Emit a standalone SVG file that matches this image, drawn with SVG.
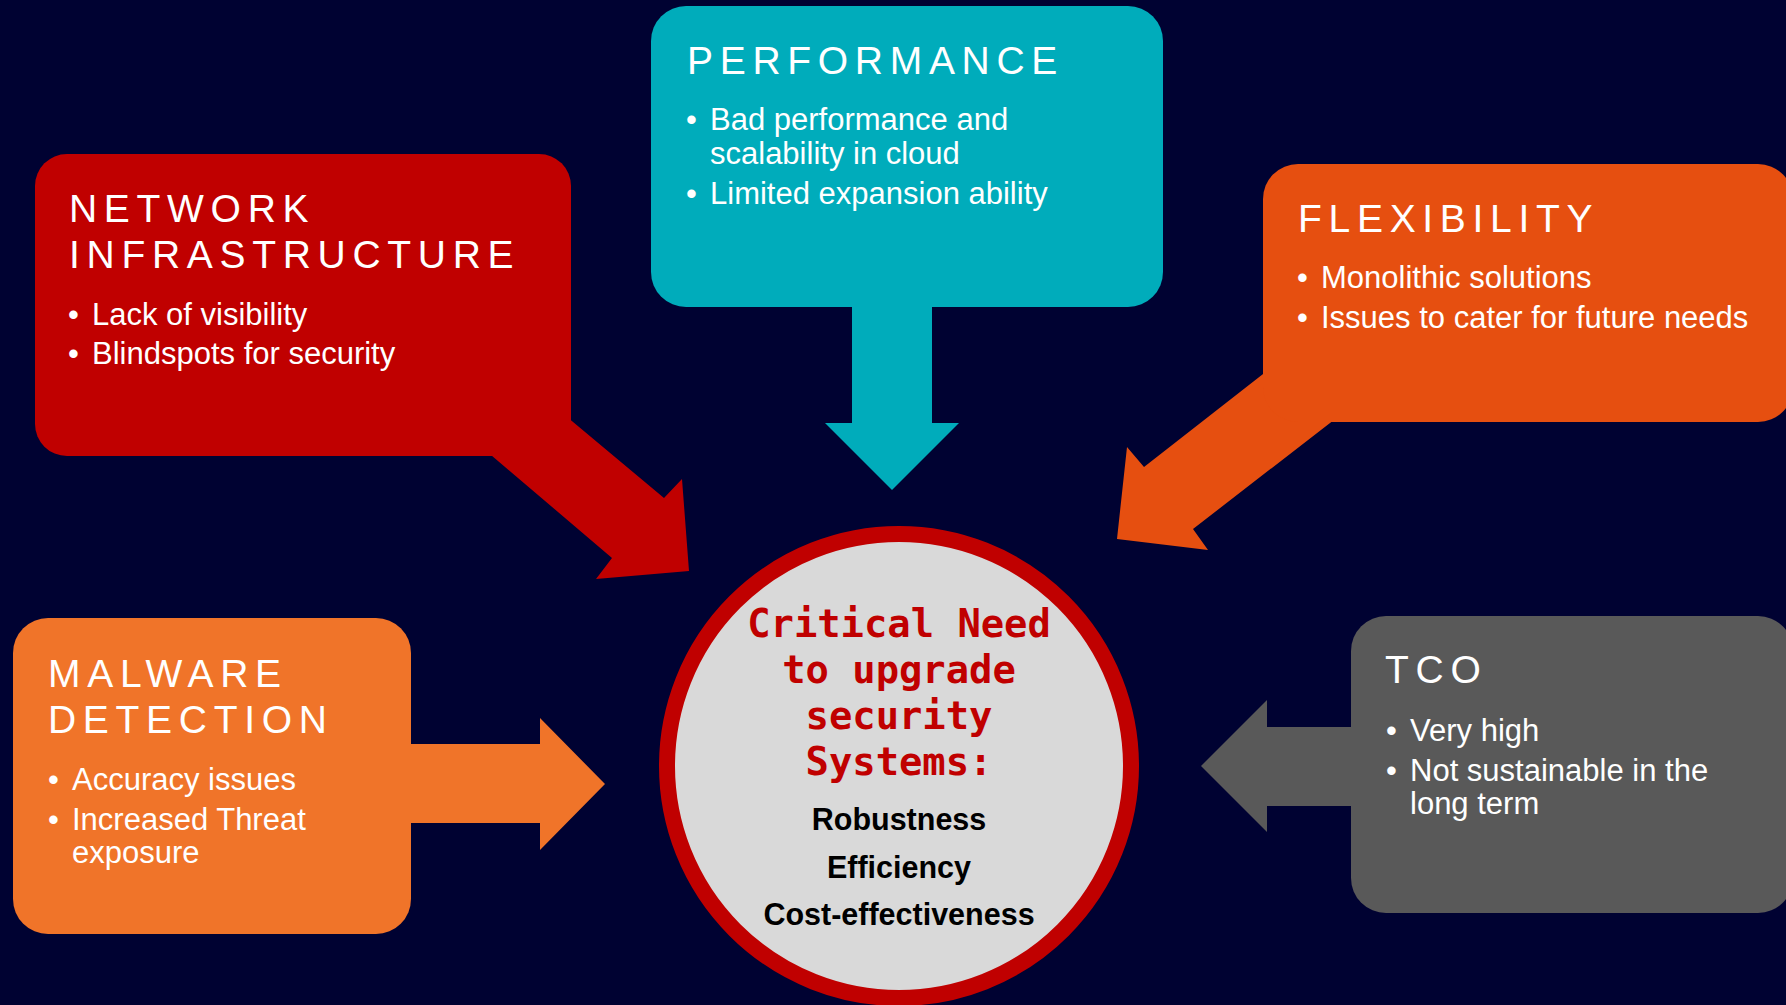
<svg xmlns="http://www.w3.org/2000/svg" width="1786" height="1005" viewBox="0 0 1786 1005">
<style>
.title{font-family:"Liberation Sans",Arial,sans-serif;font-size:39px;fill:#ffffff;letter-spacing:6.7px}
.body{font-family:"Liberation Sans",Arial,sans-serif;font-size:31px;fill:#ffffff}
.crit{font-family:"DejaVu Sans Mono","Liberation Mono",monospace;font-weight:bold;font-size:38.8px;fill:#C00000;text-anchor:middle}
.val{font-family:"Liberation Sans",Arial,sans-serif;font-weight:bold;font-size:30.5px;fill:#000000;text-anchor:middle}
</style>
<rect x="0" y="0" width="1786" height="1005" fill="#000232"/>
<g id="connectors">
<polygon id="arrow-network" fill="#C00000" points="430,403 612,558 596,579 689,571 682,479 664,498 524,381"/>
<polygon id="arrow-performance" fill="#00ACBB" points="852,280 932,280 932,423 959,423 892,490 825,423 852,423"/>
<polygon id="arrow-flexibility" fill="#E64F10" points="1323,327 1144,467 1127,447 1117,539 1208,550 1193,529 1401,368"/>
<polygon id="arrow-malware" fill="#F07429" points="380,744 540,744 540,718 605,784 540,850 540,823 380,823"/>
<polygon id="arrow-tco" fill="#595959" points="1380,727 1267,727 1267,700 1201,766 1267,832 1267,806 1380,806"/>
</g>
<g id="node-network">
<rect x="35" y="154" width="536" height="302" rx="32" fill="#C00000"/>
<text class="title" x="69" y="222">NETWORK</text>
<text class="title" x="69" y="268">INFRASTRUCTURE</text>
<text class="body" x="68" y="325">•</text><text class="body" x="92" y="325">Lack of visibility</text>
<text class="body" x="68" y="364">•</text><text class="body" x="92" y="364">Blindspots for security</text>
</g>
<g id="node-performance">
<rect x="651" y="6" width="512" height="301" rx="35" fill="#00ACBB"/>
<text class="title" x="687" y="74">PERFORMANCE</text>
<text class="body" x="686" y="130">•</text><text class="body" x="710" y="130">Bad performance and</text>
<text class="body" x="710" y="164">scalability in cloud</text>
<text class="body" x="686" y="204">•</text><text class="body" x="710" y="204">Limited expansion ability</text>
</g>
<g id="node-flexibility">
<rect x="1263" y="164" width="530" height="258" rx="35" fill="#E64F10"/>
<text class="title" x="1298" y="232">FLEXIBILITY</text>
<text class="body" x="1297" y="288">•</text><text class="body" x="1321" y="288">Monolithic solutions</text>
<text class="body" x="1297" y="328">•</text><text class="body" x="1321" y="328">Issues to cater for future needs</text>
</g>
<g id="node-malware">
<rect x="13" y="618" width="398" height="316" rx="35" fill="#F07429"/>
<text class="title" x="48" y="687">MALWARE</text>
<text class="title" x="48" y="733">DETECTION</text>
<text class="body" x="48" y="790">•</text><text class="body" x="72" y="790">Accuracy issues</text>
<text class="body" x="48" y="830">•</text><text class="body" x="72" y="830">Increased Threat</text>
<text class="body" x="72" y="863">exposure</text>
</g>
<g id="node-tco">
<rect x="1351" y="616" width="442" height="297" rx="35" fill="#595959"/>
<text class="title" x="1385" y="683">TCO</text>
<text class="body" x="1386" y="741">•</text><text class="body" x="1410" y="741">Very high</text>
<text class="body" x="1386" y="781">•</text><text class="body" x="1410" y="781">Not sustainable in the</text>
<text class="body" x="1410" y="814">long term</text>
</g>
<g id="node-center">
<circle cx="899" cy="766" r="232" fill="#D9D9D9" stroke="#C00000" stroke-width="16"/>
<text class="crit" x="899" y="637">Critical Need</text>
<text class="crit" x="899" y="683">to upgrade</text>
<text class="crit" x="899" y="729">security</text>
<text class="crit" x="899" y="775">Systems:</text>
<text class="val" x="899" y="830">Robustness</text>
<text class="val" x="899" y="878">Efficiency</text>
<text class="val" x="899" y="925">Cost-effectiveness</text>
</g>
</svg>
